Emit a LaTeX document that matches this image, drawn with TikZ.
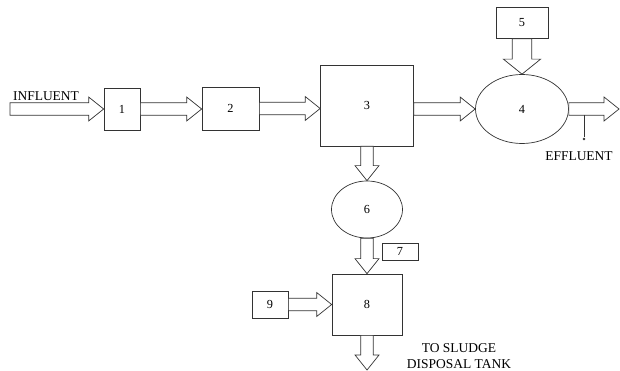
\documentclass[tikz,border=0pt]{standalone}
\usepackage{fontspec}
\setmainfont{Liberation Serif}
\usetikzlibrary{shapes.geometric, arrows.meta, calc}

% block arrows (outline only), widths in mm (1px = 0.3mm)
\newcommand{\sw}{1.9mm}
\newcommand{\hw}{3.6mm}
\newcommand{\hl}{4.5mm}
\newcommand{\flowright}[2]{%
  \draw[flow] let \p1=(#1), \p2=(#2) in
    (\x1,\y1+\sw) -- (\x2-\hl,\y1+\sw) -- (\x2-\hl,\y1+\hw) -- (\x2,\y1)
    -- (\x2-\hl,\y1-\hw) -- (\x2-\hl,\y1-\sw) -- (\x1,\y1-\sw) -- cycle;}
\newcommand{\flowdown}[3][1]{%
  \draw[flow] let \p1=(#2), \p2=(#3) in
    (\x1-#1*\sw,\y1) -- (\x1-#1*\sw,\y2+\hl) -- (\x1-#1*\hw,\y2+\hl) -- (\x1,\y2)
    -- (\x1+#1*\hw,\y2+\hl) -- (\x1+#1*\sw,\y2+\hl) -- (\x1+#1*\sw,\y1) -- cycle;}

\begin{document}
\begin{tikzpicture}[
  x=0.3mm, y=-0.3mm,
  unit/.style={draw=black!80, line width=0.6pt, rectangle, inner sep=0pt, font=\fontsize{10.5}{12}\selectfont},
  tank/.style={unit, ellipse},
  lbl/.style={font=\fontsize{11.5}{13}\selectfont, inner sep=0pt},
  flow/.style={draw=black!80, line width=0.6pt, fill=white}
]
\useasboundingbox (0,0) rectangle (620,371);

% Main line
\node[unit, minimum width=10.8mm, minimum height=12.6mm] (u1) at (122,109) {1};
\node[unit, minimum width=17.1mm, minimum height=12.9mm] (u2) at (230.5,108.5) {2};
\node[unit, minimum width=27.9mm, minimum height=24.3mm] (u3) at (367,105.5) {3};
\node[tank, minimum width=27.9mm, minimum height=20.7mm] (u4) at (522,109) {4};
\node[unit, minimum width=15.6mm, minimum height=9.3mm] (u5) at (522,23) {5};

% Sludge line
\node[tank, minimum width=21.3mm, minimum height=17.1mm] (u6) at (367,209.5) {6};
\node[unit, minimum width=10.8mm, minimum height=5.1mm] (u7) at (400,251.5) {7};
\node[unit, minimum width=21mm, minimum height=18.3mm] (u8) at (367,304.5) {8};
\node[unit, minimum width=10.8mm, minimum height=8.1mm] (u9) at (270,304.5) {9};

% Labels
\node[lbl] (influent) at (46,96) {INFLUENT};
\node[lbl] (effluent) at (579,156) {EFFLUENT};
\node[lbl, align=center] (sludge) at (459,356) {TO SLUDGE\\DISPOSAL TANK};

\coordinate (in) at (10,109);
\coordinate (out) at (619,109);
\coordinate (tap) at (584,115);
\node[circle, fill=black!80, inner sep=0pt, minimum size=0.8mm] (drip) at (584,139) {};
\coordinate (sludgeout) at (367,370);

% Arrows
\flowright{in}{u1.west}
\flowright{u1.east}{u2.west}
\flowright{u2.east}{u3.west |- u2.east}
\flowright{u3.east |- u4.west}{u4.west}
\flowright{u4.east}{out}
\flowdown[1.55]{u5.south}{u4.north}
\flowdown{u3.south}{u6.north}
\flowdown{u6.south}{u8.north}
\flowright{u9.east}{u8.west |- u9.east}
\flowdown{u8.south}{sludgeout}
\draw[black!80, line width=0.6pt] (tap) -- (drip);

\end{tikzpicture}
\end{document}
